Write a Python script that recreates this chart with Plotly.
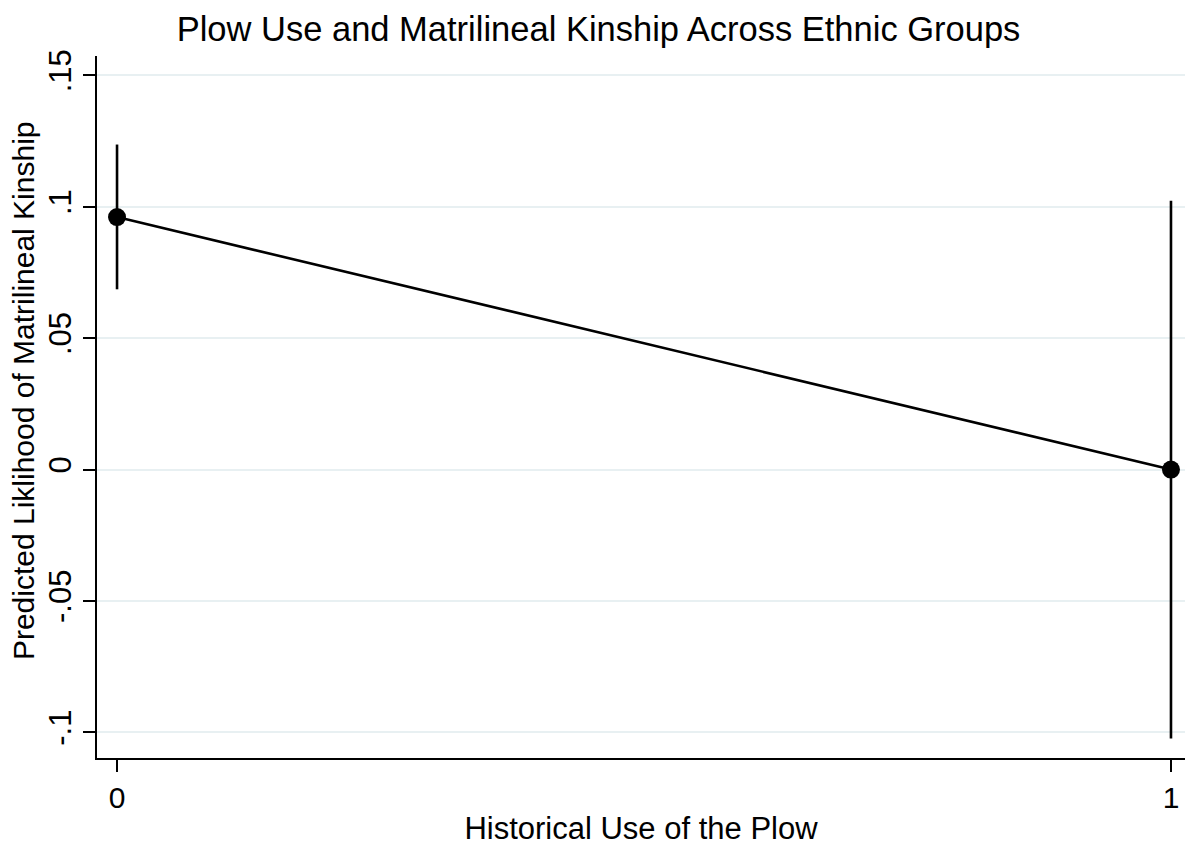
import plotly.graph_objects as go

# Predicted likelihood of matrilineal kinship by historical plow use
plow_use = [0, 1]
predicted = [0.0961, 0.0]
ci_low = [0.0686, -0.1024]
ci_high = [0.1237, 0.1023]

y_ticks = [-0.1, -0.05, 0, 0.05, 0.1, 0.15]
y_tick_labels = ["-.1", "-.05", "0", ".05", ".1", ".15"]
x_ticks = [0, 1]
x_tick_labels = ["0", "1"]

FONT = "Liberation Sans, Arial, Helvetica, sans-serif"
GRID = "#e8f0f2"

err_plus = [h - p for h, p in zip(ci_high, predicted)]
err_minus = [p - l for p, l in zip(predicted, ci_low)]

fig = go.Figure()
fig.add_trace(go.Scatter(
    x=plow_use,
    y=predicted,
    mode="lines+markers",
    line=dict(color="black", width=2.6),
    marker=dict(color="black", size=18),
    error_y=dict(
        type="data",
        symmetric=False,
        array=err_plus,
        arrayminus=err_minus,
        color="black",
        thickness=2.6,
        width=0,
    ),
    showlegend=False,
    cliponaxis=False,
))

fig.update_layout(
    width=1185,
    height=846,
    margin=dict(l=97, r=0, t=56, b=83),
    paper_bgcolor="white",
    plot_bgcolor="white",
    font=dict(family=FONT, color="black"),
    title=dict(
        text="Plow Use and Matrilineal Kinship Across Ethnic Groups",
        font=dict(size=34.5, family=FONT, color="black"),
        x=598.5 / 1185,
        xanchor="center",
        xref="container",
        y=1 - 29 / 846,
        yanchor="middle",
        yref="container",
    ),
    xaxis=dict(
        range=[-0.019, 1.0133],
        tickvals=x_ticks,
        ticktext=x_tick_labels,
        tickfont=dict(size=30, family=FONT, color="black"),
        ticks="outside",
        ticklen=12,
        tickwidth=1.5,
        tickcolor="black",
        showline=True,
        linecolor="black",
        linewidth=2,
        showgrid=False,
        zeroline=False,
        title=dict(
            text="Historical Use of the Plow",
            font=dict(size=31, family=FONT, color="black"),
            standoff=10,
        ),
    ),
    yaxis=dict(
        range=[-0.1098, 0.1574],
        tickvals=y_ticks,
        ticktext=y_tick_labels,
        tickangle=-90,
        tickfont=dict(size=31, family=FONT, color="black"),
        ticks="outside",
        ticklen=12,
        tickwidth=1.5,
        tickcolor="black",
        showline=True,
        linecolor="black",
        linewidth=2,
        showgrid=True,
        gridcolor=GRID,
        gridwidth=2,
        zeroline=False,
    ),
    annotations=[
        dict(
            text="Predicted Liklihood of Matrilineal Kinship",
            textangle=-90,
            font=dict(size=30, family=FONT, color="black"),
            xref="paper",
            yref="paper",
            x=-(97 - 23.5) / 1088,
            y=(763 - 393) / 707,
            xanchor="center",
            yanchor="middle",
            showarrow=False,
        )
    ],
)

fig.write_html("out.html")
